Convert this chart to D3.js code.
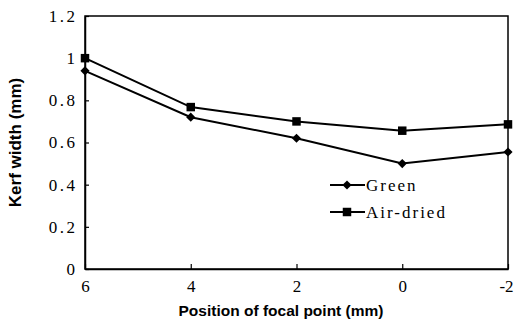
<!DOCTYPE html>
<html>
<head>
<meta charset="utf-8">
<script src="https://cdn.jsdelivr.net/npm/d3@7/dist/d3.min.js"></script>
<style>
  html, body { margin: 0; padding: 0; background: #fff; }
  svg { display: block; }
</style>
</head>
<body>
<svg id="chart" width="516" height="326"></svg>
<script>
// Focal point positions (mm), plotted from 6 down to -2
const positions = [6, 4, 2, 0, -2];
// Kerf width (mm) for each wood condition
const greenKerf = [0.94, 0.72, 0.62, 0.50, 0.555];
const airDriedKerf = [1.0, 0.768, 0.70, 0.656, 0.686];
const seriesNames = ["Green", "Air-dried"];
const yTicks = [0, 0.2, 0.4, 0.6, 0.8, 1, 1.2];
const yTickLabels = ["0", "0.2", "0.4", "0.6", "0.8", "1", "1.2"];
const xTicks = [6, 4, 2, 0, -2];
const xTickLabels = ["6", "4", "2", "0", "-2"];

const SERIF = "Liberation Serif, Tinos, DejaVu Serif, Noto Serif, serif";
const SANS = "Liberation Sans, Arial, sans-serif";

const svg = d3.select("#chart");
const margin = { left: 85, right: 8, top: 16, bottom: 57 };
const W = 516, H = 326;

const x = d3.scaleLinear().domain([6, -2]).range([margin.left, W - margin.right]);
const y = d3.scaleLinear().domain([0, 1.2]).range([H - margin.bottom, margin.top]);

// Plot frame
svg.append("rect")
  .attr("x", x(6)).attr("y", y(1.2))
  .attr("width", x(-2) - x(6)).attr("height", y(0) - y(1.2))
  .attr("fill", "none").attr("stroke", "#000").attr("stroke-width", 1.5);

// Y axis with inward ticks
const yAxis = d3.axisLeft(y).tickValues(yTicks).tickSizeInner(-4).tickSizeOuter(0)
  .tickPadding(10).tickFormat((d, i) => yTickLabels[i]);
const gy = svg.append("g").attr("transform", `translate(${x(6)},0)`).call(yAxis);
gy.select(".domain").attr("stroke-width", 1.5);
gy.selectAll(".tick line").attr("stroke-width", 1.2);
gy.selectAll(".tick text")
  .style("font-family", SERIF).style("font-size", "17px")
  .style("letter-spacing", "2.5px").attr("fill", "#000")
  .attr("dx", "2.5px");

// X axis with inward ticks
const xAxis = d3.axisBottom(x).tickValues(xTicks).tickSizeInner(-5).tickSizeOuter(0)
  .tickPadding(11).tickFormat((d, i) => xTickLabels[i]);
const gx = svg.append("g").attr("transform", `translate(0,${y(0)})`).call(xAxis);
gx.select(".domain").attr("stroke-width", 1.5);
gx.selectAll(".tick line").attr("stroke-width", 1.2);
gx.selectAll(".tick text")
  .style("font-family", SERIF).style("font-size", "17px").attr("fill", "#000")
  .attr("dx", d => d === -2 ? "-2px" : null);

// Axis titles
svg.append("text")
  .attr("x", 281).attr("y", 316)
  .attr("text-anchor", "middle")
  .style("font-family", SANS).style("font-size", "15.5px").style("font-weight", "bold")
  .attr("fill", "#000")
  .text("Position of focal point (mm)");

svg.append("text")
  .attr("transform", "translate(21,142.5) rotate(-90)")
  .attr("text-anchor", "middle")
  .style("font-family", SANS).style("font-size", "17px").style("font-weight", "bold")
  .attr("fill", "#000")
  .text("Kerf width (mm)");

// Series lines and markers: diamonds are squares turned 45 degrees
const line = d3.line().x((d, i) => x(positions[i])).y(d => y(d));
const diamondPath = d3.symbol().type(d3.symbolSquare).size(42)();
const squarePath = d3.symbol().type(d3.symbolSquare).size(72)();

const series = [
  { name: seriesNames[0], values: greenKerf, sym: diamondPath, rot: 45 },
  { name: seriesNames[1], values: airDriedKerf, sym: squarePath, rot: 0 }
];

series.forEach(s => {
  svg.append("path")
    .datum(s.values)
    .attr("d", line)
    .attr("fill", "none").attr("stroke", "#000").attr("stroke-width", 2);
  svg.selectAll(null)
    .data(s.values)
    .join("path")
    .attr("transform", (d, i) => `translate(${x(positions[i])},${y(d)}) rotate(${s.rot})`)
    .attr("d", s.sym)
    .attr("fill", "#000");
});

// Legend
const legend = svg.append("g").attr("transform", "translate(330,185)");
series.forEach((s, i) => {
  const g = legend.append("g").attr("transform", `translate(0,${i * 27})`);
  g.append("line").attr("x1", 0).attr("x2", 35).attr("y1", 0).attr("y2", 0)
    .attr("stroke", "#000").attr("stroke-width", 2);
  g.append("path").attr("transform", `translate(17,0) rotate(${s.rot})`).attr("d", s.sym).attr("fill", "#000");
  g.append("text").attr("x", 36).attr("y", 6)
    .style("font-family", SERIF).style("font-size", "17px")
    .style("letter-spacing", "2px").attr("fill", "#000")
    .text(s.name);
});
</script>
</body>
</html>
